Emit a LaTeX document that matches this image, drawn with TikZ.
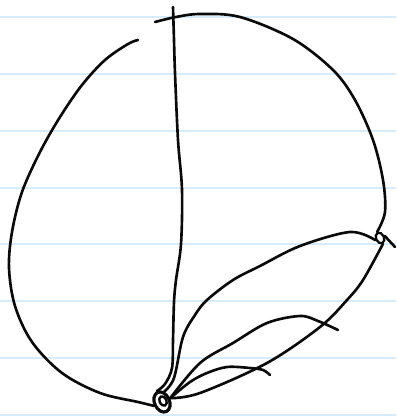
\documentclass[tikz,border=0pt]{standalone}
\usepackage{xcolor}
\usetikzlibrary{shapes.geometric,positioning}
\definecolor{ruleblue}{RGB}{214,236,250}
\definecolor{inkblack}{RGB}{10,10,10}

\begin{document}
\begin{tikzpicture}[
      x=0.02cm, y=-0.02cm,
      ink/.style={draw=inkblack, line width=1.5pt, line cap=round, line join=round},
      stroke/.style={ink, smooth, tension=0.55},
      knot/.style={ellipse, draw=inkblack, line width=1.8pt, inner sep=0pt,
        minimum width=#1, minimum height=1.4*#1, rotate=25},
      ruled/.style={draw=ruleblue, line width=0.8pt},
    ]
    \useasboundingbox (0,0) rectangle (396,416);

    % ── Paper rules ─────────────────────────────────────────────
    \foreach \y in {17,74,131,188,244,301,358,415}
      \draw[ruled] (0,\y) -- (396,\y);

    % ── Knots ───────────────────────────────────────────────────
    \node[knot=0.3cm] (knot) at (162,402) {};
    \node[knot=0.14cm, line width=1.4pt] (knotin) at (163,401) {};
    \node[knot=0.16cm, line width=1.3pt] (tip) at (380,238) {};

    % ── Outer curve ─────────────────────────────────────────────
    \draw[stroke] plot coordinates {(138,40) (128,44) (105,60) (82,85) (60,117)
      (40,152) (22,192) (12,232) (9,268) (15,306) (32,342) (62,373) (100,393)
      (138,402) (knot.west)};
    \draw[stroke] plot coordinates {(155,22) (176,17) (200,14) (240,17) (293,39)
      (333,70) (355,100) (373,140) (383,180) (385,212) (tip.north)};
    \draw[stroke] plot coordinates {(tip.south) (363,280) (347,300) (320,327)
      (267,363) (200,393) (knot.east)};

    % ── Spine ───────────────────────────────────────────────────
    \draw[stroke] plot coordinates {(173,7) (174,40) (175,73) (178,140) (182,190)
      (181,244) (176,280) (174,302) (173,340) (172,368) (165,384) (knot.north)};

    % ── Lobes ───────────────────────────────────────────────────
    \draw[stroke] plot coordinates {(knot.north east) (174,378) (183,337) (195,315)
      (207,300) (233,280) (260,266) (300,246) (350,232) (tip.west)};
    \draw[stroke] plot coordinates {(tip.east) (395,247)};
    \draw[stroke] plot coordinates {(knot.east) (200,363) (233,343) (267,323)
      (300,316) (318,321) (338,330)};
    \draw[stroke] plot coordinates {(knot.east) (190,382) (207,373) (227,367)
      (250,368) (263,370) (270,375)};

    \end{tikzpicture}
\end{document}
